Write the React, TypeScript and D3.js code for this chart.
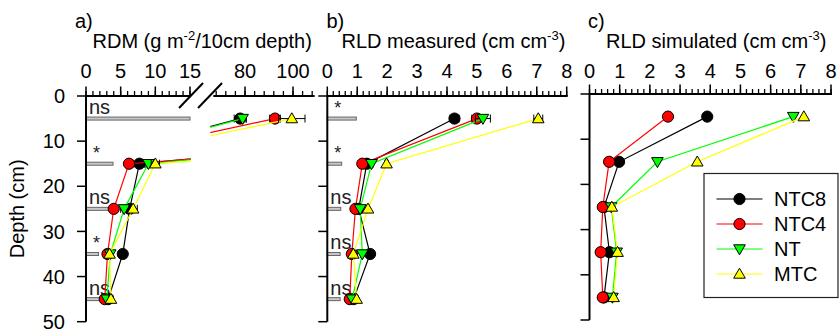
import React from 'react';
import * as d3 from 'd3';

// Soil layers (cm, layer midpoints)
const depths = [5, 15, 25, 35, 45];
const depthTicks = [0, 10, 20, 30, 40, 50];

// Treatments
const seriesNames = ['NTC8', 'NTC4', 'NT', 'MTC'];
const seriesColors = ['#000000', '#ff0000', '#00ff00', '#ffff00'];
const seriesShapes = ['circle', 'circle', 'down', 'up'];

// a) Root dry matter (g m-2 / 10 cm depth)
const rdmNTC8 = [78, 7.7, 6.3, 5.3, 3.2];
const rdmNTC4 = [92.5, 6.2, 4.0, 3.1, 2.7];
const rdmNT = [79, 9.0, 5.5, 3.5, 3.0];
const rdmMTC = [99.5, 10.0, 6.8, 3.4, 3.6];
const rdmErrNTC8 = [2.5, 0.8, 0.4, 0.3, 0.2];
const rdmErrNTC4 = [2.2, 0.5, 0.3, 0.2, 0.2];
const rdmErrNT = [1.5, 0.5, 0.5, 0.2, 0.2];
const rdmErrMTC = [5.5, 0.6, 0.6, 0.2, 0.3];
const rdmSig = ['ns', '*', 'ns', '*', 'ns'];
const rdmLsd = [15, 3.9, 3.5, 1.8, 2.5];
const rdmTicksLow = [0, 5, 10, 15];
const rdmTicksHigh = [80, 100];

// b) Measured root length density (cm cm-3)
const rldNTC8 = [4.25, 1.32, 1.05, 1.43, 0.88];
const rldNTC4 = [5.0, 1.17, 0.94, 0.82, 0.75];
const rldNT = [5.2, 1.48, 1.1, 1.17, 0.83];
const rldMTC = [7.05, 1.98, 1.36, 0.87, 0.98];
const rldErrNTC8 = [0.15, 0.05, 0.04, 0.04, 0.03];
const rldErrNTC4 = [0.17, 0.05, 0.04, 0.04, 0.03];
const rldErrNT = [0.25, 0.05, 0.04, 0.04, 0.03];
const rldErrMTC = [0.15, 0.05, 0.04, 0.04, 0.03];
const rldSig = ['*', '*', 'ns', 'ns', 'ns'];
const rldLsd = [0.97, 0.48, 0.45, 0.43, 0.43];

// c) Simulated root length density (cm cm-3)
const simNTC8 = [3.9, 0.98, 0.48, 0.66, 0.48];
const simNTC4 = [2.6, 0.65, 0.44, 0.37, 0.44];
const simNT = [6.75, 2.25, 0.72, 0.9, 0.76];
const simMTC = [7.1, 3.57, 0.74, 0.93, 0.8];

const rldTicks = [0, 1, 2, 3, 4, 5, 6, 7, 8];

const FONT = "'Liberation Sans', Arial, Helvetica, sans-serif";
const FS = 20;
const W = 839;
const H = 329;

const rdmValues = [rdmNTC8, rdmNTC4, rdmNT, rdmMTC];
const rdmErrors = [rdmErrNTC8, rdmErrNTC4, rdmErrNT, rdmErrMTC];
const rldValues = [rldNTC8, rldNTC4, rldNT, rldMTC];
const rldErrors = [rldErrNTC8, rldErrNTC4, rldErrNT, rldErrMTC];
const simValues = [simNTC8, simNTC4, simNT, simMTC];

type Scale = d3.ScaleLinear<number, number>;

function Marker({ shape, x, y, fill }: { shape: string; x: number; y: number; fill: string }) {
  if (shape === 'circle') {
    return <circle cx={x} cy={y} r={5.6} fill={fill} stroke="#000" strokeWidth={1} />;
  }
  const hw = 5.8;
  const pts =
    shape === 'up'
      ? [[x, y - 5.8], [x - hw, y + 4.2], [x + hw, y + 4.2]]
      : [[x, y + 5.8], [x - hw, y - 4.2], [x + hw, y - 4.2]];
  return <polygon points={pts.map((p) => p.join(',')).join(' ')} fill={fill} stroke="#000" strokeWidth={1} />;
}

function Series({ values, errors, xs, ys }: { values: number[][]; errors?: number[][]; xs: Scale; ys: Scale }) {
  const line = d3
    .line<number>()
    .x((v) => xs(v))
    .y((_, i) => ys(depths[i]));
  return (
    <g>
      {values.map((vals, s) => (
        <g key={s}>
          <path d={line(vals) || ''} fill="none" stroke={seriesColors[s]} strokeWidth={1.2} />
          {errors &&
            vals.map((v, i) => {
              const y = ys(depths[i]);
              const x1 = xs(v - errors[s][i]);
              const x2 = xs(v + errors[s][i]);
              return (
                <g key={i} stroke="#000" strokeWidth={1}>
                  <line x1={x1} x2={x2} y1={y} y2={y} />
                  <line x1={x1} x2={x1} y1={y - 4} y2={y + 4} />
                  <line x1={x2} x2={x2} y1={y - 4} y2={y + 4} />
                </g>
              );
            })}
          {vals.map((v, i) => (
            <Marker key={i} shape={seriesShapes[s]} x={xs(v)} y={ys(depths[i])} fill={seriesColors[s]} />
          ))}
        </g>
      ))}
    </g>
  );
}

function TopTicks({ xs, y, major, minor, labelY }: { xs: Scale; y: number; major: number[]; minor: number[]; labelY: number }) {
  return (
    <g>
      {minor.map((t) => (
        <line key={'m' + t} x1={xs(t)} x2={xs(t)} y1={y} y2={y - 5} stroke="#000" strokeWidth={1.3} />
      ))}
      {major.map((t) => (
        <line key={'M' + t} x1={xs(t)} x2={xs(t)} y1={y} y2={y - 9.5} stroke="#000" strokeWidth={1.5} />
      ))}
      {major.map((t) => (
        <text key={'L' + t} x={xs(t)} y={labelY} textAnchor="middle" fontSize={FS}>
          {t}
        </text>
      ))}
    </g>
  );
}

function DepthAxis({ x, ys, labels }: { x: number; ys: Scale; labels: boolean }) {
  return (
    <g>
      <line x1={x} x2={x} y1={ys(0)} y2={ys(50)} stroke="#000" strokeWidth={2} />
      {depthTicks.map((t) => (
        <line key={t} x1={x - 9} x2={x} y1={ys(t)} y2={ys(t)} stroke="#000" strokeWidth={1.5} />
      ))}
      {labels &&
        depthTicks.map((t) => (
          <text key={'l' + t} x={65} y={ys(t)} dy="0.36em" textAnchor="end" fontSize={FS}>
            {t}
          </text>
        ))}
    </g>
  );
}

function SigBars({ xs, ys, lsd, sig }: { xs: Scale; ys: Scale; lsd: number[]; sig: string[] }) {
  return (
    <g>
      {depths.map((d, i) => {
        const y = ys(d);
        const x0 = xs(0);
        return (
          <g key={d}>
            <rect x={x0} y={y - 1.5} width={xs(lsd[i]) - x0} height={3} fill="#c8c8c8" stroke="#666" strokeWidth={1} />
            <text x={x0 + (sig[i] === '*' ? 7 : 3)} y={y - 4.5} fontSize={sig[i] === '*' ? 18 : FS} fill="#222">
              {sig[i]}
            </text>
          </g>
        );
      })}
    </g>
  );
}

function range(a: number, b: number, step: number): number[] {
  const out: number[] = [];
  for (let v = a; v <= b + 1e-9; v += step) out.push(Math.round(v * 1000) / 1000);
  return out;
}

export default function App() {
  // depth scales
  const yAB = d3.scaleLinear().domain([0, 50]).range([96, 321.7]);
  const yC = d3.scaleLinear().domain([0, 50]).range([94, 320]);

  // a) broken x axis: low segment 0-15, high segment 66-109
  const xLow = d3.scaleLinear().domain([0, 15]).range([86, 190]);
  const xHigh = d3.scaleLinear().domain([80, 100]).range([245, 293]);
  const lowEnd = xLow(15.15);
  const highStart = xHigh(66.8);
  const highEnd = xHigh(109);

  // b) and c)
  const xB = d3.scaleLinear().domain([0, 8]).range([327.3, 566.7]);
  const xC = d3.scaleLinear().domain([0, 8]).range([589.5, 831]);

  const axisAB = yAB(0);
  const axisC = yC(0);

  return (
    <svg
      width={W}
      height={H}
      viewBox={`0 0 ${W} ${H}`}
      style={{ position: 'absolute', left: 0, top: 0, background: '#fff' }}
      fontFamily={FONT}
    >
      <rect x={0} y={0} width={W} height={H} fill="#fff" />
      <defs>
        <clipPath id="clipLow">
          <rect x={0} y={0} width={lowEnd} height={H} />
        </clipPath>
        <clipPath id="clipHigh">
          <rect x={highStart - 3} y={0} width={W} height={H} />
        </clipPath>
      </defs>

      {/* panel a */}
      <text x={75} y={28} fontSize={FS}>a)</text>
      <text x={92.5} y={48} fontSize={FS}>
        RDM (g m<tspan dy={-8} fontSize={13}>-2</tspan>
        <tspan dy={8}>/10cm depth)</tspan>
      </text>
      <g clipPath="url(#clipLow)">
        <SigBars xs={xLow} ys={yAB} lsd={rdmLsd} sig={rdmSig} />
        <Series values={rdmValues} errors={rdmErrors} xs={xLow} ys={yAB} />
      </g>
      <g clipPath="url(#clipHigh)">
        <Series values={rdmValues} errors={rdmErrors} xs={xHigh} ys={yAB} />
      </g>
      <line x1={xLow(0)} x2={lowEnd} y1={axisAB} y2={axisAB} stroke="#000" strokeWidth={2} />
      <line x1={highStart} x2={highEnd} y1={axisAB} y2={axisAB} stroke="#000" strokeWidth={2} />
      <TopTicks xs={xLow} y={axisAB} major={rdmTicksLow} minor={range(0, 15, 1)} labelY={78} />
      <TopTicks xs={xHigh} y={axisAB} major={rdmTicksHigh} minor={range(68, 108, 4)} labelY={78} />
      {/* axis break marks */}
      <line x1={lowEnd - 12} x2={lowEnd + 12} y1={axisAB + 12} y2={axisAB - 13} stroke="#000" strokeWidth={2} />
      <line x1={lowEnd + 7} x2={lowEnd + 31} y1={axisAB + 12} y2={axisAB - 13} stroke="#000" strokeWidth={2} />
      <DepthAxis x={86} ys={yAB} labels={true} />
      <text transform={`translate(24, ${yAB(25)}) rotate(-90)`} textAnchor="middle" fontSize={FS}>
        Depth (cm)
      </text>

      {/* panel b */}
      <text x={326.5} y={28} fontSize={FS}>b)</text>
      <text x={341.5} y={48} fontSize={FS}>
        RLD measured (cm cm<tspan dy={-8} fontSize={13}>-3</tspan>
        <tspan dy={8}>)</tspan>
      </text>
      <SigBars xs={xB} ys={yAB} lsd={rldLsd} sig={rldSig} />
      <Series values={rldValues} errors={rldErrors} xs={xB} ys={yAB} />
      <line x1={xB(0)} x2={xB(8) + 1} y1={axisAB} y2={axisAB} stroke="#000" strokeWidth={2} />
      <TopTicks xs={xB} y={axisAB} major={rldTicks} minor={range(0, 8, 0.2)} labelY={78} />
      <DepthAxis x={xB(0)} ys={yAB} labels={false} />

      {/* panel c */}
      <text x={588} y={28} fontSize={FS}>c)</text>
      <text x={606} y={48} fontSize={FS}>
        RLD simulated (cm cm<tspan dy={-8} fontSize={13}>-3</tspan>
        <tspan dy={8}>)</tspan>
      </text>
      <Series values={simValues} xs={xC} ys={yC} />
      <line x1={xC(0)} x2={xC(8) + 1} y1={axisC} y2={axisC} stroke="#000" strokeWidth={2} />
      <TopTicks xs={xC} y={axisC} major={rldTicks} minor={range(0, 8, 0.2)} labelY={78} />
      <DepthAxis x={xC(0)} ys={yC} labels={false} />

      {/* legend */}
      <g>
        <rect x={704} y={173.5} width={134} height={124} fill="#fff" stroke="#222" strokeWidth={1.2} />
        {seriesNames.map((name, i) => {
          const y = 199 + i * 25;
          return (
            <g key={name}>
              <line x1={716.5} x2={762.5} y1={y} y2={y} stroke={seriesColors[i]} strokeWidth={1.2} />
              <Marker shape={seriesShapes[i]} x={739.5} y={y} fill={seriesColors[i]} />
              <text x={774} y={y + 7} fontSize={FS}>
                {name}
              </text>
            </g>
          );
        })}
      </g>
    </svg>
  );
}
